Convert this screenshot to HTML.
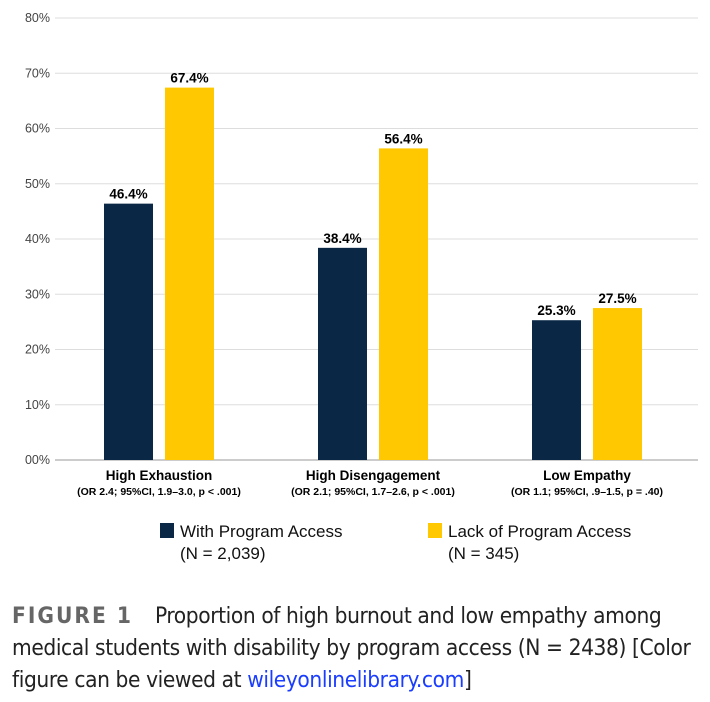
<!DOCTYPE html>
<html><head><meta charset="utf-8"><style>
body{margin:0;background:#fff;width:710px;height:702px;overflow:hidden;font-family:"Liberation Sans",Arial,sans-serif}
#cap{position:absolute;left:12px;top:600px;width:695px;font-size:22.5px;line-height:32px;color:#222;font-family:"DejaVu Sans Condensed","Liberation Sans Narrow","Liberation Sans",sans-serif;letter-spacing:-0.4px}
#cap b{color:#666;letter-spacing:2px;margin-right:22px}
#cap a{color:#1a3dff;text-decoration:none}
</style></head><body>
<svg id="chart" width="710" height="600" style="position:absolute;left:0;top:0"></svg>
<div id="cap"><b>FIGURE 1</b>Proportion of high burnout and low empathy among medical students with disability by program access (N = 2438) [Color figure can be viewed at <a>wileyonlinelibrary.com</a>]</div>
<script>
const categories=["High Exhaustion","High Disengagement","Low Empathy"];
const subLabels=["(OR 2.4; 95%CI, 1.9–3.0, p < .001)","(OR 2.1; 95%CI, 1.7–2.6, p < .001)","(OR 1.1; 95%CI, .9–1.5, p = .40)"];
const withAccess=[46.4,38.4,25.3];
const lackAccess=[67.4,56.4,27.5];
const yTicks=[0,10,20,30,40,50,60,70,80];
const NS="http://www.w3.org/2000/svg";
const svg=document.getElementById('chart');
const y0=460,yTop=18,yMax=80;
const y=v=>y0-(v/yMax)*(y0-yTop);
const xc=i=>159+i*214;
function mk(t,a,txt){const e=document.createElementNS(NS,t);for(const k in a)e.setAttribute(k,a[k]);if(txt!==undefined)e.textContent=txt;svg.appendChild(e);return e;}
yTicks.forEach(t=>{
 const l=mk('line',{x1:55,x2:698,y1:y(t),y2:y(t),stroke:t===0?'#bbb':'#ddd','stroke-width':t===0?1.5:1});
 
 
 const tx=mk('text',{x:50,y:y(t)+4,'text-anchor':'end','font-size':12.5,fill:'#444'},(t===0?'00':t)+'%');
 
 
});
const bw=49;
categories.forEach((c,i)=>{
 [[withAccess[i],'#0a2746',-55],[lackAccess[i],'#ffc800',6]].forEach(([v,col,dx],j)=>{
  const r=mk('rect',{x:xc(i)+dx,y:y(v),width:bw,height:y0-y(v),fill:col});
  
  
  const t=mk('text',{x:xc(i)+dx+bw/2,y:y(v)-5,'text-anchor':'middle','font-size':13.5,'font-weight':'bold',fill:'#000'},v.toFixed(1)+'%');
  
  
 });
 const t1=mk('text',{x:xc(i),y:480,'text-anchor':'middle','font-size':13.5,'font-weight':'bold',fill:'#000'},c);
 
 
 const t2=mk('text',{x:xc(i),y:495,'text-anchor':'middle','font-size':10.5,'font-weight':'bold',fill:'#000'},subLabels[i]);
 
 
});
[[160,'#0a2746','With Program Access','(N = 2,039)'],[428,'#ffc800','Lack of Program Access','(N = 345)']].forEach(([x,col,a,b],k)=>{
 const r=mk('rect',{x:x,y:523,width:14,height:15,fill:col});
 
 
 const t=mk('text',{x:x+20,y:537,'font-size':17,fill:'#111'},a);
 
 
 const t2=mk('text',{x:x+20,y:559,'font-size':17,fill:'#111'},b);
 
 
});
</script>
</body></html>
